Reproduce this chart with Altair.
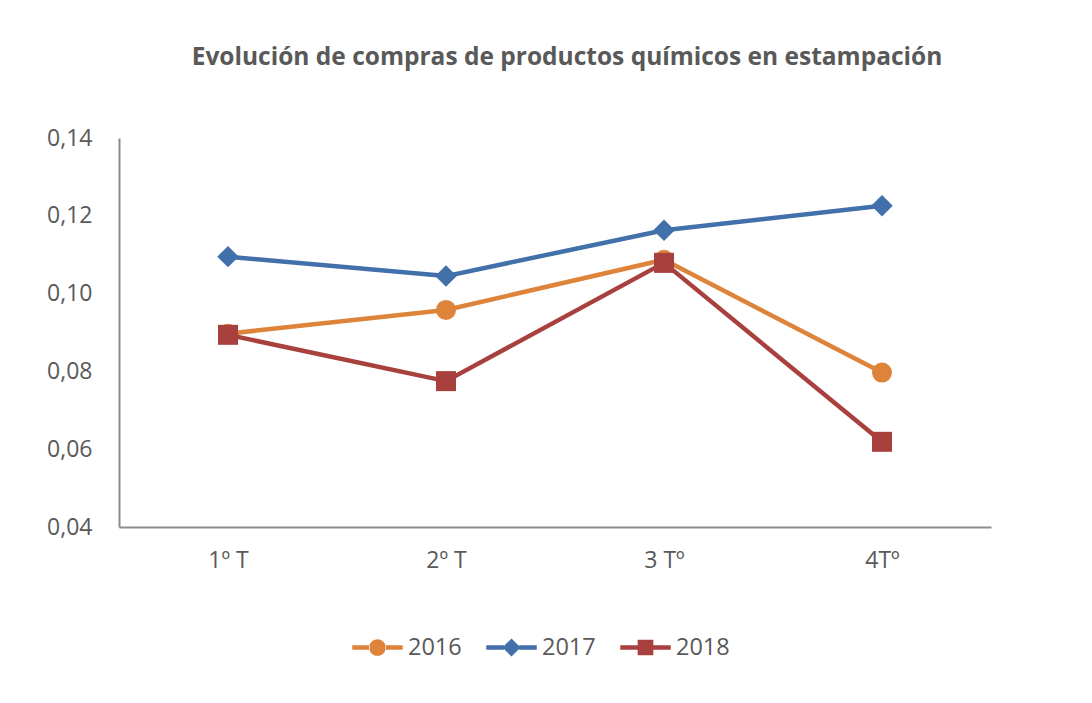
import altair as alt
import pandas as pd

quarters = ["1º T", "2º T", "3 Tº", "4Tº"]
years = ["2016", "2017", "2018"]
v2016 = [0.0897, 0.0958, 0.1087, 0.0797]
v2017 = [0.1095, 0.1045, 0.1163, 0.1226]
v2018 = [0.0894, 0.0775, 0.1079, 0.0619]
colors = ["#DE833A", "#4270AA", "#A8413E"]
shapes = ["circle", "diamond", "square"]
y_ticks = [0.04, 0.06, 0.08, 0.10, 0.12, 0.14]

rows = []
for yr, vals in zip(years, [v2016, v2017, v2018]):
    for q, v in zip(quarters, vals):
        rows.append({"quarter": q, "year": yr, "value": v})
df = pd.DataFrame(rows)

FONT = "Open Sans"
TXT = "#595959"

# legend symbols: a line with a marker in the middle (unit box -1..1)
h = 0.085
bar = f"M-1,-{h}L-0.3,-{h}L-0.3,{h}L-1,{h}ZM0.3,-{h}L1,-{h}L1,{h}L0.3,{h}Z"
leg_paths = [
    bar + "M-0.33,0A0.33,0.33 0 1,0 0.33,0A0.33,0.33 0 1,0 -0.33,0Z",
    bar + "M0,-0.36L0.36,0L0,0.36L-0.36,0Z",
    bar + "M-0.31,-0.31L0.31,-0.31L0.31,0.31L-0.31,0.31Z",
]

color_scale = alt.Scale(domain=years, range=colors)
x_enc = alt.X(
    "quarter:N",
    sort=quarters,
    scale=alt.Scale(padding=0.5),
    axis=alt.Axis(
        title=None, labelAngle=0, ticks=False, tickSize=0, labelPadding=22,
        labelFont=FONT, labelFontSize=23, labelColor=TXT,
        domainColor="#8C8C8C", domainWidth=2, grid=False,
    ),
)
y_enc = alt.Y(
    "value:Q",
    scale=alt.Scale(domain=[0.04, 0.14], nice=False, zero=False),
    axis=alt.Axis(
        title=None, values=y_ticks, ticks=False, tickSize=0, labelPadding=27,
        labelExpr="replace(format(datum.value, '.2f'), '.', ',')",
        labelFont=FONT, labelFontSize=23, labelColor=TXT,
        domainColor="#8C8C8C", domainWidth=2, grid=False,
    ),
)

leg = alt.Legend(
    orient="none", legendX=233, legendY=484, direction="horizontal",
    title=None, padding=0, symbolSize=2550, symbolStrokeWidth=0,
    labelFont=FONT, labelFontSize=23.5, labelColor=TXT, labelOffset=5,
    columnPadding=24,
)

base = alt.Chart(df)

legend_layer = base.transform_filter("false").mark_point(filled=True, opacity=1).encode(
    color=alt.Color("year:N", scale=color_scale, legend=leg),
    shape=alt.Shape("year:N", scale=alt.Scale(domain=years, range=leg_paths), legend=leg),
)

layers = [legend_layer]
sizes = {"circle": 400, "diamond": 460, "square": 400}
for yr, shp in zip(years, shapes):
    sub = base.transform_filter(alt.datum.year == yr)
    layers.append(
        sub.mark_line(strokeWidth=4.5, strokeJoin="round", strokeCap="round").encode(
            x=x_enc, y=y_enc,
            color=alt.Color("year:N", scale=color_scale),
        )
    )
    layers.append(
        sub.mark_point(shape=shp, filled=True, opacity=1, size=sizes[shp]).encode(
            x=x_enc, y=y_enc,
            color=alt.Color("year:N", scale=color_scale),
        )
    )

chart = alt.layer(*layers).properties(
    width=872,
    height=389,
    title=alt.TitleParams(
        text="Evolución de compras de productos químicos en estampación",
        font=FONT, fontSize=24.5, fontWeight="bold", color=TXT,
        anchor="middle", frame="group", offset=38, baseline="alphabetic", dx=12,
    ),
    autosize=alt.AutoSizeParams(type="none"),
    padding={"left": 111, "top": 130, "right": 85, "bottom": 160},
    background="white",
).configure_view(stroke=None)

chart.save("out.html", embed_options={"renderer": "svg", "actions": False})
